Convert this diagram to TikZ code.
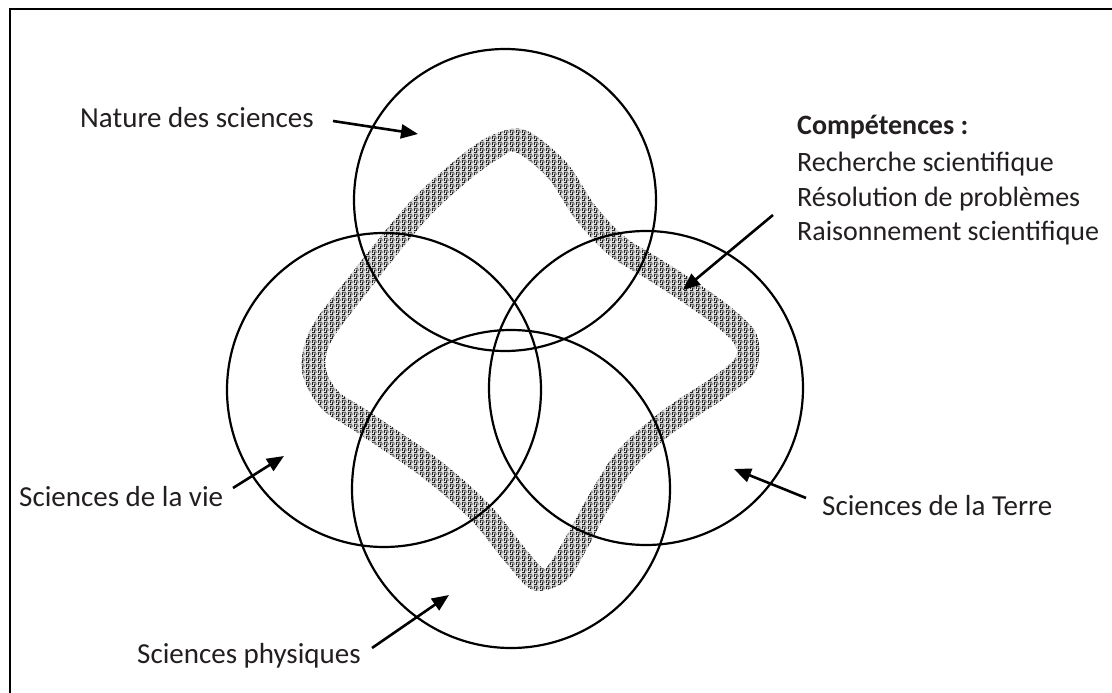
\documentclass[tikz,border=0pt]{standalone}
\usepackage{fontspec}
\setmainfont{Carlito}
\usetikzlibrary{arrows.meta,calc,patterns}
\definecolor{txt}{HTML}{231F20}
\pgfdeclarepatternformonly{maze}{\pgfpointorigin}{\pgfqpoint{6pt}{6pt}}{\pgfqpoint{6pt}{6pt}}{%
  \pgfsetlinewidth{1.1pt}%
  \pgfpathmoveto{\pgfqpoint{0pt}{0.5pt}}\pgfpathlineto{\pgfqpoint{3pt}{0.5pt}}\pgfpathlineto{\pgfqpoint{3pt}{3.5pt}}\pgfpathlineto{\pgfqpoint{6pt}{3.5pt}}%
  \pgfpathmoveto{\pgfqpoint{0.5pt}{2.5pt}}\pgfpathlineto{\pgfqpoint{0.5pt}{5.5pt}}\pgfpathlineto{\pgfqpoint{4.5pt}{5.5pt}}%
  \pgfusepath{stroke}}
\tikzset{
  circ/.style={circle, draw=black, line width=2.2pt, inner sep=0pt, outer sep=0pt},
  lbl/.style={text=txt, font=\fontsize{29}{35}\selectfont, inner sep=0pt, anchor=base west},
  complbl/.style={lbl, font=\fontsize{28}{34}\selectfont},
  arr/.style={-{Triangle[length=17pt,width=14pt]}, line width=2.6pt, black},
  frame/.style={line width=2pt, black},
  bandbase/.style={fill=black!12, even odd rule},
  band/.style={pattern=maze, pattern color=black!85, even odd rule}
}
\begin{document}
\begin{tikzpicture}[x=1pt, y=-1pt]
\useasboundingbox (0,0) rectangle (1112,693);
\fill[white] (0,0) rectangle (1112,693);
\draw[frame] (10,693) -- (10,9) -- (1112,9);
% band centre line points
\foreach \x/\y [count=\i] in {520/141, 557/170, 585/212, 617/246, 652/268, 692/294, 725/318, 746/340, 745/365, 718/388, 670/420, 628/457, 600/500, 578/540, 558/572, 538/579, 515/555, 480/512, 430/468, 363/422, 330/400, 314/370, 321/335, 360/282, 417/212, 460/172, 493/148}
  \coordinate (p\i) at (\x,\y);
\foreach \i [evaluate=\i as \pv using {int(mod(\i+25,27)+1)}, evaluate=\i as \nx using {int(mod(\i,27)+1)}] in {1,...,27} {
  \coordinate (t\i) at ($(p\i)+(p\nx)-(p\pv)$);
  \coordinate (o\i) at ($(p\i)!12pt!90:(t\i)$);
  \coordinate (q\i) at ($(p\i)!12pt!-90:(t\i)$);
}
\path[bandbase]
  plot[smooth cycle, tension=0.55] coordinates {(o1) (o2) (o3) (o4) (o5) (o6) (o7) (o8) (o9) (o10) (o11) (o12) (o13) (o14) (o15) (o16) (o17) (o18) (o19) (o20) (o21) (o22) (o23) (o24) (o25) (o26) (o27)}
  plot[smooth cycle, tension=0.55] coordinates {(q1) (q2) (q3) (q4) (q5) (q6) (q7) (q8) (q9) (q10) (q11) (q12) (q13) (q14) (q15) (q16) (q17) (q18) (q19) (q20) (q21) (q22) (q23) (q24) (q25) (q26) (q27)};
\path[band]
  plot[smooth cycle, tension=0.55] coordinates {(o1) (o2) (o3) (o4) (o5) (o6) (o7) (o8) (o9) (o10) (o11) (o12) (o13) (o14) (o15) (o16) (o17) (o18) (o19) (o20) (o21) (o22) (o23) (o24) (o25) (o26) (o27)}
  plot[smooth cycle, tension=0.55] coordinates {(q1) (q2) (q3) (q4) (q5) (q6) (q7) (q8) (q9) (q10) (q11) (q12) (q13) (q14) (q15) (q16) (q17) (q18) (q19) (q20) (q21) (q22) (q23) (q24) (q25) (q26) (q27)};
% circles
\node[circ, minimum size=302pt] (ctop) at (505,200) {};
\node[circ, minimum size=314pt] (cleft) at (384,390) {};
\node[circ, minimum size=314pt] (cright) at (646,388) {};
\node[circ, minimum size=318pt] (cbottom) at (511,489) {};
% labels
\node[lbl] (nature) at (80,128) {Nature des sciences};
\node[complbl] (comp) at (797,135) {\bfseries Compétences :};
\node[complbl] (comp1) at (797,171) {Recherche scientifique};
\node[complbl] (comp2) at (797,206) {Résolution de problèmes};
\node[complbl] (comp3) at (797,240) {Raisonnement scientifique};
\node[lbl] (vie) at (19,506) {Sciences de la vie};
\node[lbl] (phys) at (137,663) {Sciences physiques};
\node[lbl] (terre) at (822,515) {Sciences de la Terre};
% arrow ends
\coordinate (natureA) at (333,121);
\coordinate (natureB) at (418,134);
\coordinate (compA) at (773,215);
\coordinate (compB) at (683,290);
\coordinate (vieA) at (233,488);
\coordinate (vieB) at (284,456);
\coordinate (physA) at (372,648);
\coordinate (physB) at (449,595);
\coordinate (terreA) at (806,498);
\coordinate (terreB) at (734,469);
\draw[arr] (natureA) -- (natureB);
\draw[arr] (compA) -- (compB);
\draw[arr] (vieA) -- (vieB);
\draw[arr] (physA) -- (physB);
\draw[arr] (terreA) -- (terreB);
\end{tikzpicture}
\end{document}
